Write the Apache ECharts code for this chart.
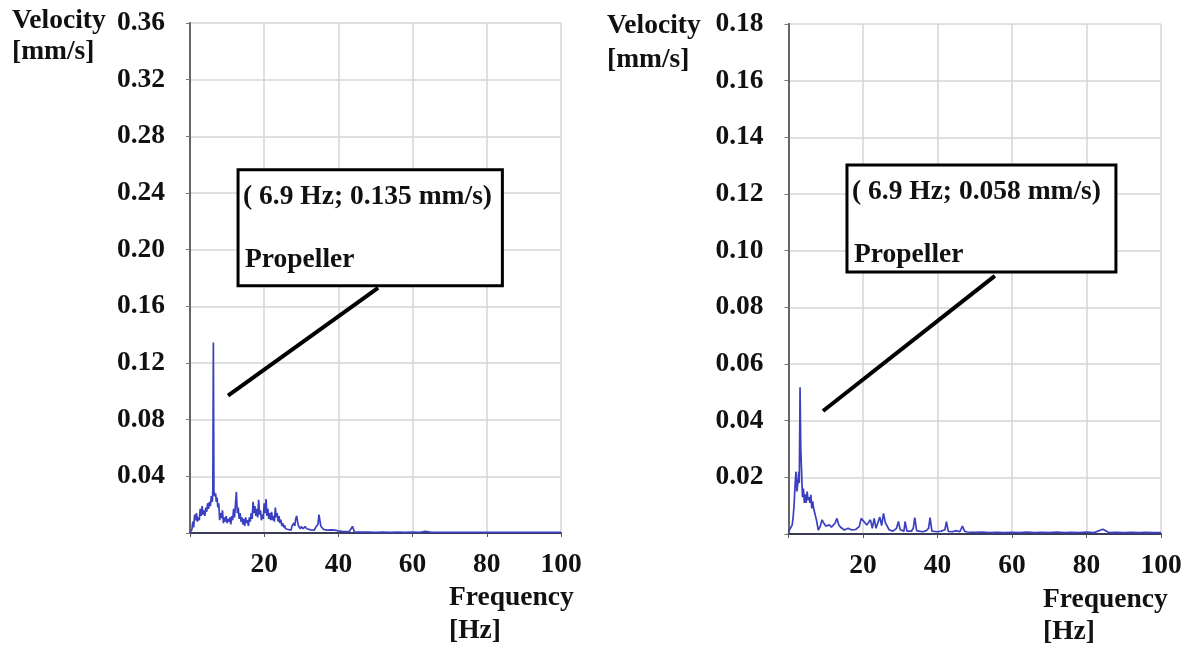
<!DOCTYPE html>
<html>
<head>
<meta charset="utf-8">
<script src="https://cdn.jsdelivr.net/npm/echarts@6/dist/echarts.min.js"></script>
<style>
html,body{margin:0;padding:0;background:#fff;}
#c{width:1190px;height:646px;}
</style>
</head>
<body>
<div id="c"></div>
<script>
// ---------- DATA ----------
const leftFreq = [0,0.25,0.5,0.75,1,1.25,1.5,1.75,2,2.25,2.5,2.75,3,3.25,3.5,3.75,4,4.25,4.5,4.75,5,5.25,5.5,5.75,6,6.15,6.3,6.45,6.6,6.9,7.1,7.3,7.5,7.75,8,8.25,8.5,8.75,9,9.25,9.5,9.75,10,10.25,10.5,10.75,11,11.25,11.5,11.75,12,12.25,12.5,12.75,13,13.25,13.5,13.75,14,14.25,14.5,14.75,15,15.25,15.5,15.75,16,16.25,16.5,16.75,17,17.25,17.5,17.75,18,18.25,18.5,18.75,19,19.25,19.5,19.75,20,20.25,20.5,20.75,21,21.25,21.5,21.75,22,22.25,22.5,22.75,23,23.25,23.5,23.75,24,24.25,24.5,24.75,25,25.25,25.5,25.75,26,26.5,27,27.25,27.5,27.75,28,28.25,28.5,28.75,29,29.25,29.5,29.75,30,30.5,31,31.5,32,32.5,33,33.5,34,34.5,34.75,35,35.25,35.75,36,36.5,37,38,39,40,41,42,43,43.8,44.3,46,48,50,52,54,56,58,60,62,63.5,65,67,69,71,73,75,77,79,81,83,85,87,89,91,93,95,97,100];
const leftVel  = [0.0005,0.001,0.0023,0.008,0.004,0.013,0.009,0.014,0.008,0.011,0.009,0.017,0.012,0.019,0.013,0.016,0.012,0.018,0.015,0.021,0.017,0.022,0.019,0.026,0.022,0.030,0.1345,0.030,0.026,0.028,0.022,0.025,0.018,0.021,0.009,0.014,0.0106,0.016,0.007,0.011,0.008,0.012,0.007,0.010,0.008,0.011,0.006,0.012,0.009,0.017,0.011,0.020,0.029,0.014,0.018,0.010,0.014,0.008,0.011,0.006,0.010,0.005,0.011,0.007,0.009,0.005,0.011,0.008,0.014,0.010,0.022,0.014,0.019,0.012,0.017,0.011,0.0235,0.013,0.016,0.009,0.013,0.010,0.021,0.014,0.024,0.012,0.017,0.010,0.014,0.009,0.015,0.009,0.012,0.008,0.018,0.011,0.014,0.008,0.012,0.007,0.0094,0.005,0.007,0.004,0.0055,0.003,0.004,0.0025,0.003,0.002,0.005,0.004,0.007,0.005,0.010,0.012,0.008,0.005,0.006,0.003,0.0045,0.003,0.0045,0.003,0.0035,0.0022,0.0028,0.002,0.0045,0.006,0.013,0.009,0.005,0.004,0.0025,0.003,0.002,0.0022,0.002,0.0015,0.0012,0.001,0.0012,0.0047,0.0008,0.0006,0.0007,0.0005,0.0006,0.0005,0.0006,0.0005,0.0006,0.0005,0.0012,0.0005,0.0004,0.0005,0.0004,0.0005,0.0004,0.0005,0.0004,0.0004,0.0005,0.0004,0.0004,0.0005,0.0004,0.0004,0.0004,0.0004,0.0004];

const rightFreq = [0,0.5,1,1.25,1.5,1.75,2,2.25,2.5,2.75,2.9,3.1,3.3,3.5,3.75,4,4.25,4.5,4.75,5,5.25,5.5,5.75,6,6.25,6.5,6.75,7,7.5,8,8.5,9,9.5,10,10.5,11,11.5,12,12.5,13,13.5,14,14.5,15,15.5,16,16.5,17,17.5,18,18.5,19,19.5,20,20.5,21,21.5,22,22.5,23,23.5,24,24.5,25,25.5,26,26.5,27,28,28.5,29,29.5,30,31,31.3,31.8,33,33.5,33.9,34.4,35,36,37,37.6,38,38.5,40,41,42,42.4,42.9,44,45,46,46.7,47.3,48,50,52,54,56,58,60,62,64,66,68,70,72,74,76,78,80,82,84.4,86,88,90,92,94,96,98,100];
const rightVel  = [0.0008,0.002,0.0032,0.006,0.0102,0.017,0.022,0.015,0.0179,0.022,0.018,0.0518,0.030,0.0226,0.013,0.016,0.011,0.014,0.011,0.015,0.012,0.013,0.011,0.0138,0.009,0.0115,0.009,0.0096,0.005,0.0014,0.0026,0.005,0.0038,0.0028,0.0035,0.0032,0.0024,0.003,0.0038,0.0055,0.0032,0.0024,0.002,0.0014,0.0018,0.002,0.0015,0.0014,0.0012,0.0016,0.002,0.0026,0.0055,0.005,0.004,0.0032,0.0026,0.005,0.002,0.0055,0.002,0.0025,0.006,0.003,0.0073,0.004,0.0044,0.0015,0.001,0.0012,0.002,0.0044,0.0015,0.001,0.0044,0.001,0.001,0.002,0.0058,0.0012,0.001,0.0008,0.0012,0.002,0.0058,0.001,0.0008,0.001,0.0015,0.0044,0.0009,0.0008,0.0012,0.0008,0.0028,0.0009,0.0007,0.0006,0.0007,0.0005,0.0006,0.0005,0.0006,0.0005,0.0007,0.0005,0.0006,0.0005,0.0007,0.0005,0.0006,0.0005,0.0007,0.0005,0.0017,0.0005,0.0006,0.0005,0.0006,0.0005,0.0006,0.0005,0.0005];

const xTicks = [20, 40, 60, 80, 100];
const leftYMax = 0.36, leftYStep = 0.04;
const rightYMax = 0.18, rightYStep = 0.02;

// annotations in data coordinates: [x1, y1, x2, y2]
const leftBox = [12.95, 0.2565, 84.2, 0.1746];
const leftLeader = [10.25, 0.097, 50.7, 0.173];
const leftNote = ['( 6.9 Hz; 0.135 mm/s)', 'Propeller'];
const rightBox = [15.7, 0.1302, 87.9, 0.0925];
const rightLeader = [9.26, 0.0434, 55.4, 0.0911];
const rightNote = ['( 6.9 Hz; 0.058 mm/s)', 'Propeller'];

// ---------- CHART ----------
const FONT = 'Liberation Serif';
const FS = 27.5;
const chart = echarts.init(document.getElementById('c'), null, {renderer: 'canvas'});

function xAxisDef(gi) {
  return {
    type: 'value', gridIndex: gi, min: 0, max: 100, interval: 20,
    axisLine: {show: true, onZero: false, lineStyle: {color: '#3a3d55', width: 2}},
    axisTick: {show: true, length: 4, lineStyle: {color: '#555', width: 1}},
    axisLabel: {
      margin: 18, fontFamily: FONT, fontWeight: 'bold', fontSize: FS, color: '#111',
      formatter: v => xTicks.indexOf(v) >= 0 ? String(v) : ''
    },
    splitLine: {show: true, lineStyle: {color: '#d6d6d6', width: 1.5}}
  };
}
function yAxisDef(gi, max, step) {
  return {
    type: 'value', gridIndex: gi, min: 0, max: max, interval: step,
    axisLine: {show: true, onZero: false, lineStyle: {color: '#8a8a8a', width: 2}},
    axisTick: {show: true, length: 4, lineStyle: {color: '#777', width: 1}},
    axisLabel: {
      margin: 25, fontFamily: FONT, fontWeight: 'bold', fontSize: FS, color: '#111',
      formatter: v => v === 0 ? '' : v.toFixed(2)
    },
    splitLine: {show: true, lineStyle: {color: '#d6d6d6', width: 1.5}}
  };
}
function rightBorder(gi, max, step) {
  return {
    type: 'value', gridIndex: gi, position: 'right', min: 0, max: max, interval: step,
    axisLine: {show: true, lineStyle: {color: '#666', width: 2}},
    axisTick: {show: false}, axisLabel: {show: false}, splitLine: {show: false}
  };
}

const option = {
  animation: false,
  backgroundColor: '#fff',
  grid: [
    {left: 190, top: 23, width: 371, height: 510, containLabel: false},
    {left: 788.5, top: 24, width: 372.5, height: 510, containLabel: false}
  ],
  xAxis: [xAxisDef(0), xAxisDef(1)],
  yAxis: [
    yAxisDef(0, leftYMax, leftYStep), yAxisDef(1, rightYMax, rightYStep),
    rightBorder(0, leftYMax, leftYStep), rightBorder(1, rightYMax, rightYStep)
  ],
  series: [
    {
      type: 'line', xAxisIndex: 0, yAxisIndex: 0, showSymbol: false, symbol: 'none',
      data: leftFreq.map((f, i) => [f, leftVel[i]]),
      lineStyle: {color: '#3a40c0', width: 1.7}, z: 3
    },
    {
      type: 'line', xAxisIndex: 1, yAxisIndex: 1, showSymbol: false, symbol: 'none',
      data: rightFreq.map((f, i) => [f, rightVel[i]]),
      lineStyle: {color: '#3a40c0', width: 1.7}, z: 3
    }
  ]
};
chart.setOption(option);

function txt(x, y, s) {
  return {type: 'text', z: 100, style: {x: x, y: y, text: s, fill: '#111',
    font: 'bold ' + FS + 'px "' + FONT + '"', textVerticalAlign: 'middle', verticalAlign: 'middle'}};
}
function note(gi, box, leader, lines) {
  const p1 = chart.convertToPixel({gridIndex: gi}, [box[0], box[1]]);
  const p2 = chart.convertToPixel({gridIndex: gi}, [box[2], box[3]]);
  const l1 = chart.convertToPixel({gridIndex: gi}, [leader[0], leader[1]]);
  const l2 = chart.convertToPixel({gridIndex: gi}, [leader[2], leader[3]]);
  return [
    {type: 'line', z: 90, shape: {x1: l1[0], y1: l1[1], x2: l2[0], y2: l2[1]},
      style: {stroke: '#000', lineWidth: 4}},
    {type: 'rect', z: 95, shape: {x: p1[0], y: p1[1], width: p2[0] - p1[0], height: p2[1] - p1[1]},
      style: {fill: '#fff', stroke: '#000', lineWidth: 3}},
    txt(p1[0] + 5, p1[1] + 27, lines[0]),
    txt(p1[0] + 7, p1[1] + 90, lines[1])
  ];
}

const g = [].concat(
  note(0, leftBox, leftLeader, leftNote),
  note(1, rightBox, rightLeader, rightNote),
  [
    txt(12, 21, 'Velocity'), txt(12, 52, '[mm/s]'),
    txt(607, 26, 'Velocity'), txt(607, 60, '[mm/s]'),
    txt(449, 598, 'Frequency'), txt(449, 631, '[Hz]'),
    txt(1043, 600, 'Frequency'), txt(1043, 632, '[Hz]')
  ]
);
chart.setOption({graphic: g});
</script>
</body>
</html>
